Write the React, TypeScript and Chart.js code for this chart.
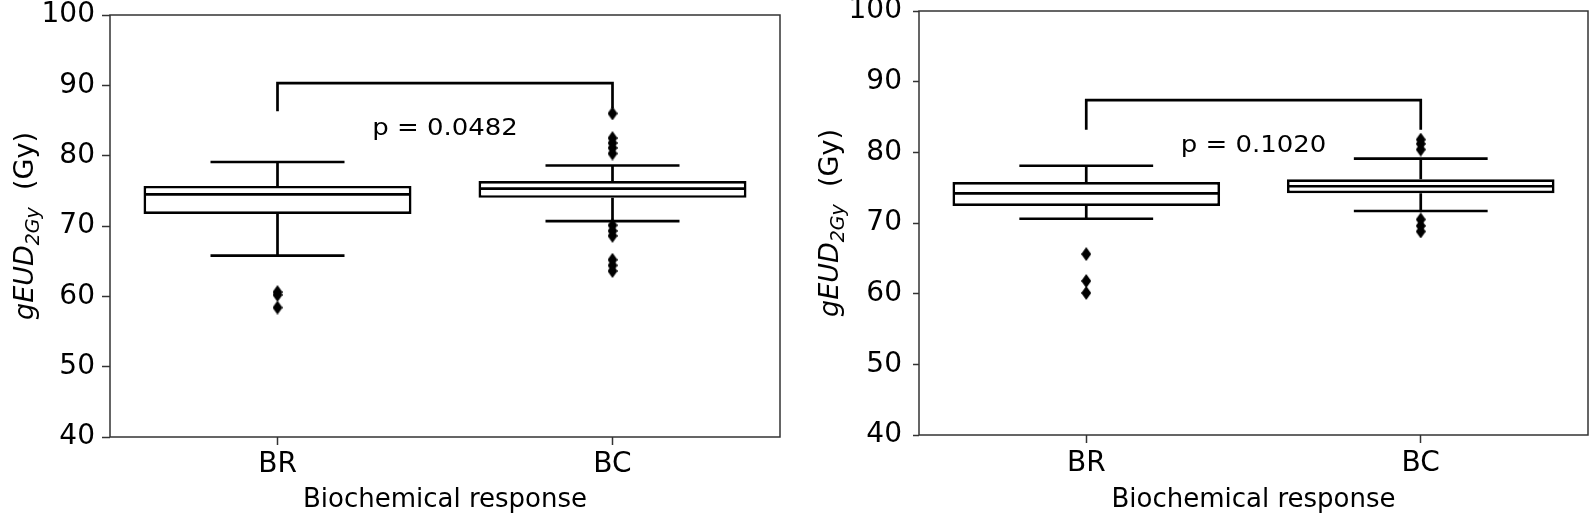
import React, { useEffect, useRef } from 'react';
import { Chart, registerables } from 'chart.js';

Chart.register(...registerables);

const FONT = 'DejaVu Sans';

// ---------- data ----------
const categories = ['BR', 'BC'];
const yTickValues = [40, 50, 60, 70, 80, 90, 100];
const xTitle = 'Biochemical response';
const pTexts = ['p = 0.0482', 'p = 0.1020'];

// Left panel (box statistics per category)
const leftQ1 = [71.7, 74.0];
const leftMedian = [74.5, 75.3];
const leftQ3 = [75.7, 76.4];
const leftWhiskerLow = [65.8, 70.7];
const leftWhiskerHigh = [79.1, 78.6];
const leftOutliersBR = [60.6, 60.2, 58.4];
const leftOutliersBC = [86.0, 82.5, 81.8, 81.1, 80.3, 70.1, 69.3, 68.6, 65.2, 64.4, 63.6];
const leftBracket = [86.3, 90.3, 86.7]; // left leg bottom, top, right leg bottom
const leftPValueY = 83.0;

// Right panel
const rightQ1 = [72.4, 74.2];
const rightMedian = [74.2, 75.2];
const rightQ3 = [75.8, 76.2];
const rightWhiskerLow = [70.6, 71.7];
const rightWhiskerHigh = [78.1, 79.1];
const rightOutliersBR = [65.6, 61.8, 60.1];
const rightOutliersBC = [81.8, 81.2, 80.4, 70.5, 69.6, 68.8];
const rightBracket = [83.2, 87.4, 83.2];
const rightPValueY = 80.0;

function makeDiamond() {
  const c = document.createElement('canvas');
  c.width = 10;
  c.height = 14;
  const g = c.getContext('2d')!;
  g.fillStyle = '#000';
  g.beginPath();
  g.moveTo(5, 0);
  g.lineTo(10, 7);
  g.lineTo(5, 14);
  g.lineTo(0, 7);
  g.closePath();
  g.fill();
  return c;
}

type PanelCfg = {
  left: number;
  width: number;
  yAxisWidth: number;
  padRight: number;
  padTop: number;
  xAxisHeight: number;
  yTickLen: number;
  yTickPad: number;
  xTickLen: number;
  xTickPad: number;
  yTitleX: number;
  xTitleBaseline: number;
  q1: number[];
  median: number[];
  q3: number[];
  lo: number[];
  hi: number[];
  outliers: number[][];
  bracket: number[];
  pText: string;
  pY: number;
  pScaleX: number;
};

const LW = 2.7;

function makeDecor(cfg: PanelCfg) {
  return {
    id: 'decor',
    afterDatasetsDraw(chart: any) {
      const { ctx, chartArea, scales } = chart;
      const x = scales.x;
      const y = scales.y;
      const catW = x.getPixelForValue(1) - x.getPixelForValue(0);
      ctx.save();
      ctx.strokeStyle = '#000';
      ctx.lineWidth = LW;
      ctx.lineCap = 'butt';
      categories.forEach((_, i) => {
        const cx = x.getPixelForValue(i);
        const hb = catW * 0.4;
        const hc = catW * 0.2;
        ctx.beginPath();
        ctx.moveTo(cx - hb + 1.3, y.getPixelForValue(cfg.median[i]));
        ctx.lineTo(cx + hb - 1.3, y.getPixelForValue(cfg.median[i]));
        // upper whisker
        ctx.moveTo(cx, y.getPixelForValue(cfg.q3[i]));
        ctx.lineTo(cx, y.getPixelForValue(cfg.hi[i]));
        ctx.moveTo(cx - hc, y.getPixelForValue(cfg.hi[i]));
        ctx.lineTo(cx + hc, y.getPixelForValue(cfg.hi[i]));
        // lower whisker
        ctx.moveTo(cx, y.getPixelForValue(cfg.q1[i]));
        ctx.lineTo(cx, y.getPixelForValue(cfg.lo[i]));
        ctx.moveTo(cx - hc, y.getPixelForValue(cfg.lo[i]));
        ctx.lineTo(cx + hc, y.getPixelForValue(cfg.lo[i]));
        ctx.stroke();
      });
      // significance bracket
      const x0 = x.getPixelForValue(0);
      const x1 = x.getPixelForValue(1);
      ctx.beginPath();
      ctx.moveTo(x0, y.getPixelForValue(cfg.bracket[0]));
      ctx.lineTo(x0, y.getPixelForValue(cfg.bracket[1]));
      ctx.lineTo(x1, y.getPixelForValue(cfg.bracket[1]));
      ctx.lineTo(x1, y.getPixelForValue(cfg.bracket[2]));
      ctx.stroke();
      // p-value text
      ctx.fillStyle = '#000';
      ctx.font = `23px "${FONT}"`;
      ctx.textAlign = 'center';
      ctx.textBaseline = 'alphabetic';
      ctx.save();
      ctx.translate(x.getPixelForValue(0.5), y.getPixelForValue(cfg.pY));
      ctx.scale(cfg.pScaleX, 1);
      ctx.fillText(cfg.pText, 0, 0);
      ctx.restore();
      // frame
      ctx.strokeStyle = '#333';
      ctx.lineWidth = 1.5;
      ctx.strokeRect(chartArea.left, chartArea.top, chartArea.right - chartArea.left, chartArea.bottom - chartArea.top);
      ctx.restore();
    },
    afterDraw(chart: any) {
      const { ctx, chartArea } = chart;
      ctx.save();
      ctx.fillStyle = '#000';
      // y title (rotated, with subscript)
      ctx.translate(cfg.yTitleX, (chartArea.top + chartArea.bottom) / 2);
      ctx.rotate(-Math.PI / 2);
      const parts = [
        { t: 'gEUD', f: `italic 27px "${FONT}"`, dy: 0 },
        { t: '2Gy', f: `italic 19px "${FONT}"`, dy: 6.5 },
        { t: '  (Gy)', f: `27px "${FONT}"`, dy: 0 },
      ];
      let total = 0;
      const widths = parts.map((p) => {
        ctx.font = p.f;
        const w = ctx.measureText(p.t).width;
        total += w;
        return w;
      });
      let cx = -total / 2;
      ctx.textAlign = 'left';
      ctx.textBaseline = 'alphabetic';
      parts.forEach((p, i) => {
        ctx.font = p.f;
        ctx.fillText(p.t, cx, 9.5 + p.dy);
        cx += widths[i];
      });
      ctx.restore();
      // x title
      ctx.save();
      ctx.fillStyle = '#000';
      ctx.font = `26px "${FONT}"`;
      ctx.textAlign = 'center';
      ctx.textBaseline = 'alphabetic';
      ctx.fillText(xTitle, (chartArea.left + chartArea.right) / 2, cfg.xTitleBaseline);
      ctx.restore();
    },
  };
}

function Panel({ cfg }: { cfg: PanelCfg }) {
  const ref = useRef<HTMLCanvasElement | null>(null);
  useEffect(() => {
    if (!ref.current) return;
    const diamond = makeDiamond();
    const outlierPoints: { x: string; y: number }[] = [];
    categories.forEach((c, i) => cfg.outliers[i].forEach((v) => outlierPoints.push({ x: c, y: v })));
    const chart = new Chart(ref.current, {
      type: 'bar',
      data: {
        labels: categories,
        datasets: [
          {
            type: 'bar',
            data: categories.map((_, i) => [cfg.q1[i], cfg.q3[i]]) as any,
            backgroundColor: '#fff',
            borderColor: '#000',
            borderWidth: LW,
            borderSkipped: false,
            barPercentage: 0.8,
            categoryPercentage: 1,
            grouped: false,
          } as any,
          {
            type: 'line',
            data: outlierPoints as any,
            showLine: false,
            pointStyle: diamond as any,
            pointRadius: 5,
            pointHoverRadius: 5,
          } as any,
        ],
      },
      options: {
        responsive: false,
        animation: false,
        devicePixelRatio: 1,
        layout: { padding: { top: cfg.padTop, right: cfg.padRight, left: 0, bottom: 0 } },
        plugins: { legend: { display: false }, tooltip: { enabled: false } },
        events: [],
        scales: {
          x: {
            type: 'category',
            offset: true,
            grid: {
              display: true,
              drawOnChartArea: false,
              drawTicks: true,
              tickLength: cfg.xTickLen,
              tickColor: '#333',
              tickWidth: 1.5,
              offset: false,
            },
            border: { display: false },
            ticks: { color: '#000', font: { family: FONT, size: 28 }, padding: cfg.xTickPad, maxRotation: 0 },
            afterFit: (s: any) => {
              s.height = cfg.xAxisHeight;
              s.paddingLeft = 0;
              s.paddingRight = 0;
            },
          },
          y: {
            type: 'linear',
            min: yTickValues[0],
            max: yTickValues[yTickValues.length - 1],
            grid: {
              display: true,
              drawOnChartArea: false,
              drawTicks: true,
              tickLength: cfg.yTickLen,
              tickColor: '#333',
              tickWidth: 1.5,
            },
            border: { display: false },
            ticks: {
              stepSize: yTickValues[1] - yTickValues[0],
              color: '#000',
              font: { family: FONT, size: 28 },
              padding: cfg.yTickPad,
            },
            afterFit: (s: any) => {
              s.width = cfg.yAxisWidth;
              s.paddingTop = 0;
              s.paddingBottom = 0;
            },
          },
        },
      } as any,
      plugins: [makeDecor(cfg)],
    });
    return () => chart.destroy();
  }, [cfg]);
  return (
    <canvas
      ref={ref}
      width={cfg.width}
      height={515}
      style={{ position: 'absolute', left: cfg.left, top: 0, width: cfg.width, height: 515 }}
    />
  );
}

const leftCfg: PanelCfg = {
  left: 0,
  width: 800,
  yAxisWidth: 110,
  padRight: 20,
  padTop: 15,
  xAxisHeight: 78,
  yTickLen: 8,
  yTickPad: 7,
  xTickLen: 8,
  xTickPad: 3,
  yTitleX: 23,
  xTitleBaseline: 507,
  q1: leftQ1,
  median: leftMedian,
  q3: leftQ3,
  lo: leftWhiskerLow,
  hi: leftWhiskerHigh,
  outliers: [leftOutliersBR, leftOutliersBC],
  bracket: leftBracket,
  pText: pTexts[0],
  pY: leftPValueY,
  pScaleX: 1.13,
};

const rightCfg: PanelCfg = {
  left: 800,
  width: 794,
  yAxisWidth: 119,
  padRight: 1,
  padTop: 11,
  xAxisHeight: 80,
  yTickLen: 6,
  yTickPad: 11,
  xTickLen: 8,
  xTickPad: 4,
  yTitleX: 28,
  xTitleBaseline: 507,
  q1: rightQ1,
  median: rightMedian,
  q3: rightQ3,
  lo: rightWhiskerLow,
  hi: rightWhiskerHigh,
  outliers: [rightOutliersBR, rightOutliersBC],
  bracket: rightBracket,
  pText: pTexts[1],
  pY: rightPValueY,
  pScaleX: 1.13,
};

export default function App() {
  return (
    <div style={{ position: 'absolute', left: 0, top: 0, width: 1594, height: 515, background: '#fff', overflow: 'hidden' }}>
      <Panel cfg={leftCfg} />
      <Panel cfg={rightCfg} />
    </div>
  );
}
